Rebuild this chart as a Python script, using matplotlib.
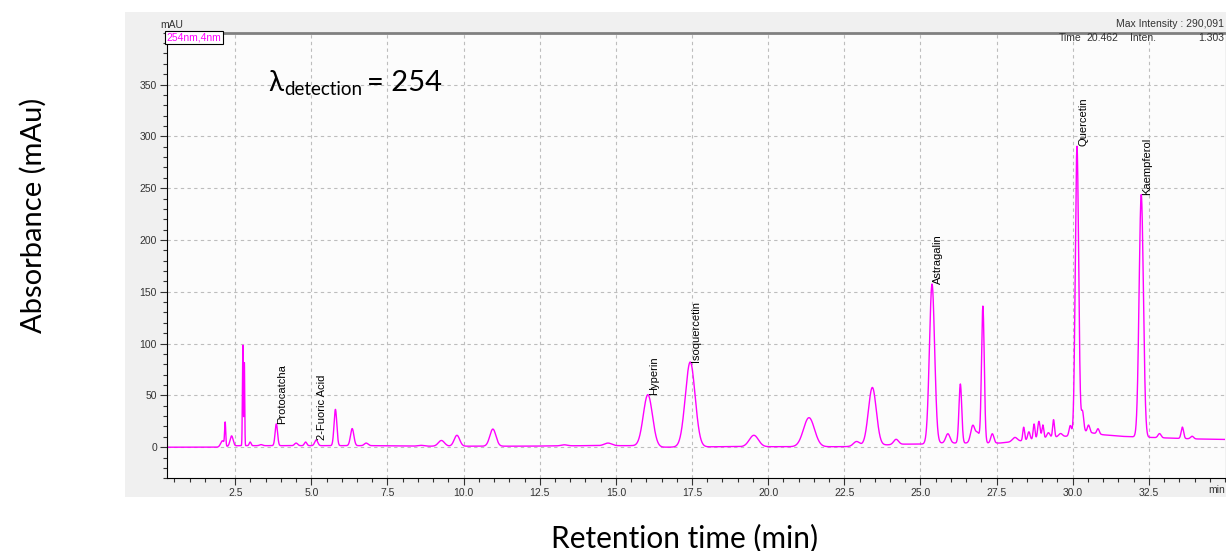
import numpy as np
import matplotlib
matplotlib.use("Agg")
import matplotlib.pyplot as plt
from matplotlib.ticker import MultipleLocator, FormatStrFormatter

# -------------------------------------------------
# Data: peak table (254 nm)
# -------------------------------------------------
peak_rt = [2.08, 2.17, 2.38, 2.75, 2.80, 2.99, 3.35, 3.85, 4.50, 4.81, 5.16,
           5.79, 6.34, 6.80, 8.60, 9.27, 9.78, 10.96, 13.30, 14.74, 16.05,
           17.44, 19.53, 21.34, 22.90, 23.42, 24.20, 25.38, 25.90, 26.31,
           26.72, 26.88, 27.05, 27.36, 28.10, 28.39, 28.56, 28.73, 28.89,
           29.02, 29.20, 29.37, 29.60, 29.92, 30.14, 30.32, 30.52, 30.83,
           32.25, 32.85, 33.60, 33.92]
peak_height = [6, 22, 10, 97, 80, 3.5, 1, 21, 2.5, 3.5, 5.5,
               35, 16.5, 2.5, 0.8, 5.5, 10.5, 16.5, 1, 2.5, 50,
               82, 11, 28, 4.5, 56, 5, 154, 9, 57,
               17, 9, 132, 9, 4, 13, 8, 15, 17,
               13, 5, 17, 3, 10, 278, 20, 7, 5,
               234, 4, 11, 2.5]
peak_sigma = [0.06, 0.018, 0.05, 0.014, 0.012, 0.03, 0.05, 0.04, 0.05, 0.04, 0.05,
              0.045, 0.055, 0.06, 0.1, 0.1, 0.09, 0.1, 0.1, 0.12, 0.15,
              0.16, 0.15, 0.18, 0.1, 0.13, 0.08, 0.085, 0.07, 0.045,
              0.07, 0.06, 0.045, 0.05, 0.08, 0.03, 0.04, 0.03, 0.04,
              0.03, 0.05, 0.03, 0.06, 0.04, 0.055, 0.04, 0.04, 0.04,
              0.07, 0.05, 0.04, 0.05]

# baseline drift
base_t = [0.25, 2.0, 2.6, 3.5, 7.5, 8.5, 12.0, 14.0, 15.5, 16.5, 18.5, 22.5,
          24.5, 25.2, 25.6, 27.6, 28.3, 29.5, 30.0, 30.4, 31.0, 31.6, 32.0,
          33.0, 34.0, 35.0]
base_v = [0, 0, 1.5, 1.5, 1.5, 1.0, 1.0, 1.5, 1.5, 0, 0.5, 0.5,
          3, 3, 4, 4, 6, 10, 11, 15, 12, 10.5, 10, 9, 8, 7.5]

# annotated compounds
names = ["Protocatcha", "2-Fuoric Acid", "Hyperin", "Isoquercetin",
         "Astragalin", "Quercetin", "Kaempferol"]
name_rt = [3.85, 5.16, 16.05, 17.44, 25.38, 30.14, 32.25]

# -------------------------------------------------
# Trace
# -------------------------------------------------
t = np.arange(0.25, 35.0001, 0.002)
signal = np.interp(t, base_t, base_v)
for rt, h, s in zip(peak_rt, peak_height, peak_sigma):
    signal = signal + h * np.exp(-0.5 * ((t - rt) / s) ** 2)

# -------------------------------------------------
# Figure
# -------------------------------------------------
W, H = 1226, 551
fig = plt.figure(figsize=(W / 100, H / 100), dpi=100)
fig.patch.set_facecolor("white")

# grey instrument panel (own axes behind the plot)
bg = fig.add_axes([125 / W, 1 - 497 / H, (W - 125) / W, (497 - 12) / H], zorder=-1)
bg.set_facecolor("#f0f0f0")
bg.set_xticks([])
bg.set_yticks([])
for sp in bg.spines.values():
    sp.set_visible(False)

ax = fig.add_axes([166.7 / W, 1 - 478.3 / H, (1225 - 166.7) / W, (478.3 - 32.7) / H],
                  zorder=1)
ax.set_facecolor("#fcfcfc")

ax.plot(t, signal, color="#ff00ff", linewidth=1.0)

ax.set_xlim(0.25, 35)
ax.set_ylim(-30, 400)

ax.xaxis.set_minor_locator(MultipleLocator(0.5))
ax.yaxis.set_minor_locator(MultipleLocator(10))
ax.set_xticks(np.arange(2.5, 33, 2.5))
ax.set_yticks(list(range(0, 351, 50)))
ax.xaxis.set_major_formatter(FormatStrFormatter("%.1f"))
ax.tick_params(which="major", length=5, width=0.8, color="#333333",
               labelsize=7.5, labelcolor="#333333", pad=2)
ax.tick_params(which="minor", length=3, width=0.8, color="#333333")
for lab in ax.get_xticklabels() + ax.get_yticklabels():
    lab.set_family("Liberation Sans")

ax.grid(True, which="major", color="#bdbdbd", linestyle=(0, (3, 3)), linewidth=0.8)
ax.set_axisbelow(True)

ax.spines["right"].set_visible(False)
ax.spines["top"].set_color("#808080")
ax.spines["top"].set_linewidth(2)
ax.spines["left"].set_color("black")
ax.spines["bottom"].set_color("black")

# compound labels
for name, rt in zip(names, name_rt):
    win = (t > rt - 0.05) & (t < rt + 0.05)
    ytop = signal[win].max()
    ax.annotate(name, (rt, ytop), xytext=(4.5, 0), textcoords="offset points",
                rotation=90, ha="center", va="bottom", fontsize=8,
                family="Liberation Sans", color="black")

# instrument texts
ax.text(0.0, 1.0, "254nm,4nm", transform=ax.transAxes, ha="left", va="top",
        fontsize=7.5, family="Liberation Sans", color="#ff00ff",
        bbox=dict(boxstyle="square,pad=0.15", facecolor="white", edgecolor="black",
                  linewidth=0.8))
fig.text(160 / W, 1 - 25 / H, "mAU", ha="left", va="center", fontsize=7.5,
         family="Liberation Sans", color="#333333")
fig.text(1224 / W, 1 - 24 / H, "Max Intensity : 290,091", ha="right", va="center",
         fontsize=7.5, family="Liberation Sans", color="#333333")
fig.text(1059 / W, 1 - 38 / H, "Time", ha="left", va="center", fontsize=7.5,
         family="Liberation Sans", color="#333333")
fig.text(1118 / W, 1 - 38 / H, "20.462", ha="right", va="center", fontsize=7.5,
         family="Liberation Sans", color="#333333")
fig.text(1130 / W, 1 - 38 / H, "Inten.", ha="left", va="center", fontsize=7.5,
         family="Liberation Sans", color="#333333")
fig.text(1224 / W, 1 - 38 / H, "1.303", ha="right", va="center", fontsize=7.5,
         family="Liberation Sans", color="#333333")
fig.text(1217 / W, 1 - 490 / H, "min", ha="center", va="center", fontsize=7.5,
         family="Liberation Sans", color="#333333")

# detection wavelength
fig.text(268 / W, 1 - 83 / H, "λ", ha="left", va="center", fontsize=20,
         family=["Lato", "DejaVu Sans"], color="black")
fig.text(284 / W, 1 - 89 / H, "detection", ha="left", va="center", fontsize=13.5,
         family=["Lato", "DejaVu Sans"], color="black")
fig.text(367 / W, 1 - 83 / H, "= 254", ha="left", va="center", fontsize=21,
         family=["Lato", "DejaVu Sans"], color="black")

# outer axis titles
fig.text(33 / W, 1 - 215 / H, "Absorbance (mAu)", rotation=90, ha="center", va="center",
         fontsize=21, family=["Lato", "DejaVu Sans"], color="black")
fig.text(685 / W, 1 - 538 / H, "Retention time (min)", ha="center", va="center",
         fontsize=21.5, family=["Lato", "DejaVu Sans"], color="black")

fig.savefig("out.png", dpi=100)
